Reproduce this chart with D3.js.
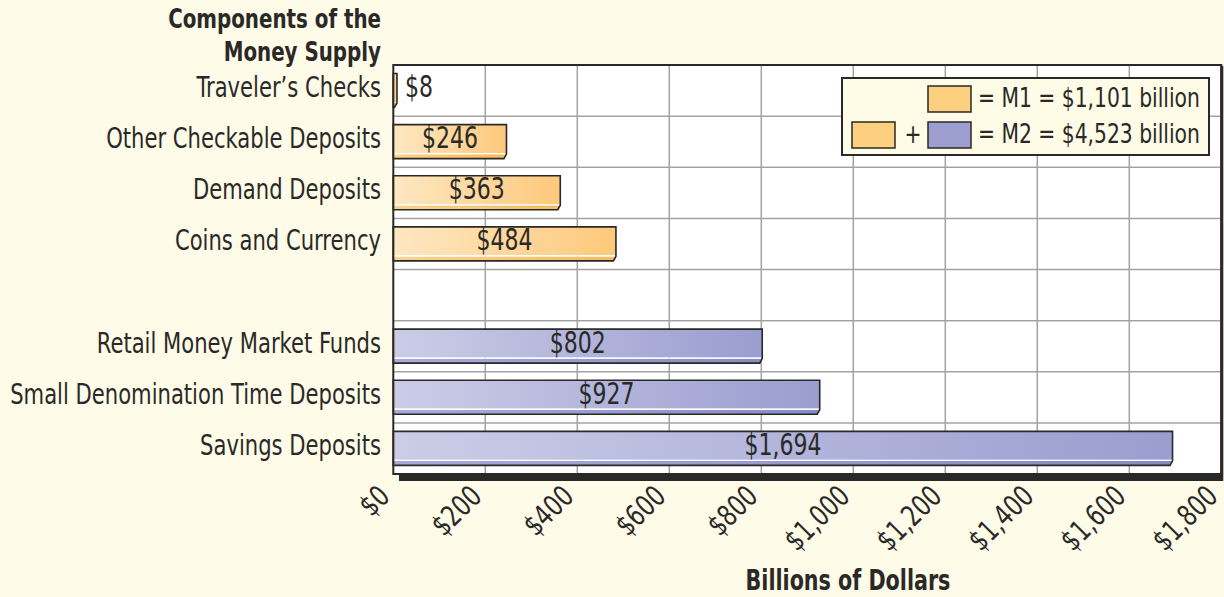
<!DOCTYPE html>
<html><head><meta charset="utf-8">
<script src="https://cdn.jsdelivr.net/npm/d3@7"></script>
<style>html,body{margin:0;padding:0;background:#fefbe8;} svg{display:block}</style>
</head><body><svg id="c" width="1224" height="597"></svg>
<script>
// ---- data ----
const m1Categories = ["Traveler’s Checks", "Other Checkable Deposits", "Demand Deposits", "Coins and Currency"];
const m1Values = [8, 246, 363, 484];
const m2Categories = ["Retail Money Market Funds", "Small Denomination Time Deposits", "Savings Deposits"];
const m2Values = [802, 927, 1694];
const xTickValues = [0, 200, 400, 600, 800, 1000, 1200, 1400, 1600, 1800];
const xTickLabels = ["$0", "$200", "$400", "$600", "$800", "$1,000", "$1,200", "$1,400", "$1,600", "$1,800"];
const titleLines = ["Components of the", "Money Supply"];
const axisTitle = "Billions of Dollars";
const legendM1 = "= M1 = $1,101 billion";
const legendM2 = "= M2 = $4,523 billion";

// ---- style ----
const FONT = '"DejaVu Sans Condensed", "Liberation Sans Narrow", "Open Sans", sans-serif';
const INK = "#2a2927";
const SY = 1.2; // vertical stretch to mimic the taller, narrow original typeface
const cv = document.createElement("canvas").getContext("2d");
function fit(text, weight, target) {
  cv.font = `${weight} 100px ${FONT}`;
  return 100 * target / cv.measureText(text).width;
}
const fsCat = fit("Small Denomination Time Deposits", "normal", 371);
const fsTitle = fit("Components of the", "bold", 213);
const fsVal = fit("$1,694", "normal", 77);
const fsLeg = fit(legendM1, "normal", 222);
const fsAxis = fit(axisTitle, "bold", 205);
const tr = (px, py) => `translate(${px},${py}) scale(1,${SY})`;

const rows = [];
m1Categories.forEach((c, i) => rows.push({name: c, value: m1Values[i], group: "m1"}));
rows.push({name: "", value: null, group: "gap"});
m2Categories.forEach((c, i) => rows.push({name: c, value: m2Values[i], group: "m2"}));

const svg = d3.select("#c");
const x = d3.scaleLinear().domain([0, 1800]).range([393.3, 1221.3]);
const y = d3.scaleBand().domain(d3.range(rows.length)).range([65, 474]).padding(0);

const defs = svg.append("defs");
function grad(id, c0, c1) {
  const g = defs.append("linearGradient").attr("id", id).attr("x1", 0).attr("x2", 1).attr("y1", 0).attr("y2", 0);
  g.append("stop").attr("offset", 0).attr("stop-color", c0);
  g.append("stop").attr("offset", 1).attr("stop-color", c1);
}
grad("gm1", "#fee7c2", "#fdc97b");
grad("gm1s", "#fcd28e", "#f7bb5a");
grad("gm2", "#cbcde7", "#9a9dcf");
grad("gm2s", "#a7aad9", "#878bc4");

// plot shadow + background
svg.append("rect").attr("x", 399).attr("y", 475).attr("width", 1222.5 - 399).attr("height", 6).attr("fill", INK);
svg.append("rect").attr("x", x(0)).attr("y", 65).attr("width", x(1800) - x(0)).attr("height", 409).attr("fill", "#ffffff");

// grid
const g = svg.append("g");
g.selectAll("line.v").data(xTickValues.slice(1, -1)).join("line")
  .attr("x1", d => x(d)).attr("x2", d => x(d)).attr("y1", 65).attr("y2", 474)
  .attr("stroke", "#a3a3a3").attr("stroke-width", 1.5);
g.selectAll("line.h").data(d3.range(1, rows.length)).join("line")
  .attr("x1", x(0)).attr("x2", x(1800)).attr("y1", d => y(d)).attr("y2", d => y(d))
  .attr("stroke", "#a3a3a3").attr("stroke-width", 1.5);

// bars
const barRows = rows.map((r, i) => ({...r, i})).filter(r => r.value !== null);
const bars = svg.append("g").selectAll("g").data(barRows).join("g");
const BT = 8.5, BH = 34, BL = 28.5;
bars.append("rect")
  .attr("x", x(0)).attr("y", d => y(d.i) + BT).attr("width", d => x(d.value) - x(0)).attr("height", BL)
  .attr("fill", d => d.group === "m1" ? "url(#gm1)" : "url(#gm2)");
bars.append("path")
  .attr("d", d => {
    const x0 = x(0), x1 = x(d.value), t = y(d.i) + BT + BL + 1, b = y(d.i) + BT + BH;
    return `M${x0},${t}H${x1}L${x1 - 2.5},${b}H${x0}Z`;
  })
  .attr("fill", d => d.group === "m1" ? "url(#gm1s)" : "url(#gm2s)");
bars.append("line")
  .attr("x1", x(0)).attr("x2", d => x(d.value) - 0.5)
  .attr("y1", d => y(d.i) + BT + BL + 0.5).attr("y2", d => y(d.i) + BT + BL + 0.5)
  .attr("stroke", "#ffffff").attr("stroke-width", 1.3);
bars.append("path")
  .attr("d", d => {
    const x0 = x(0), x1 = x(d.value), t = y(d.i) + BT, m = y(d.i) + BT + BL + 1, b = y(d.i) + BT + BH;
    return `M${x0},${t}H${x1}V${m}L${x1 - 2.5},${b}H${x0}Z`;
  })
  .attr("fill", "none").attr("stroke", INK).attr("stroke-width", 1.6).attr("stroke-linejoin", "miter");

// value labels
const fmt = v => "$" + d3.format(",")(v);
bars.append("text")
  .attr("transform", d => tr(d.value < 100 ? x(d.value) + 8 : (x(0) + x(d.value)) / 2, y(d.i) + BT + 23.5))
  .attr("text-anchor", d => d.value < 100 ? "start" : "middle")
  .attr("font-family", FONT).attr("font-size", fsVal).attr("fill", INK)
  .text(d => fmt(d.value));

// plot border
svg.append("rect").attr("x", x(0)).attr("y", 65).attr("width", x(1800) - x(0)).attr("height", 409)
  .attr("fill", "none").attr("stroke", INK).attr("stroke-width", 2);
svg.append("line").attr("x1", x(1800) + 0.5).attr("x2", x(1800) + 0.5).attr("y1", 66).attr("y2", 481)
  .attr("stroke", INK).attr("stroke-width", 3);

// category labels
svg.append("g").selectAll("text").data(rows.map((r, i) => ({...r, i})).filter(r => r.name)).join("text")
  .attr("transform", d => tr(381, y(d.i) + y.bandwidth() / 2 + 6.5))
  .attr("text-anchor", "end").attr("font-family", FONT).attr("font-size", fsCat).attr("fill", INK)
  .text(d => d.name);

// title
svg.append("g").selectAll("text").data(titleLines).join("text")
  .attr("transform", (d, i) => tr(381, 27.5 + i * 33.5))
  .attr("text-anchor", "end").attr("font-family", FONT).attr("font-weight", "bold").attr("font-size", fsTitle).attr("fill", INK)
  .text(d => d);

// x tick labels
svg.append("g").selectAll("text").data(xTickValues).join("text")
  .attr("transform", d => `translate(${x(d) - 2},498) rotate(-45) scale(1,${SY})`)
  .attr("text-anchor", "end").attr("font-family", FONT).attr("font-size", fsVal).attr("fill", INK)
  .text((d, i) => xTickLabels[i]);

// axis title
svg.append("text").attr("transform", tr(848, 590)).attr("text-anchor", "middle")
  .attr("font-family", FONT).attr("font-weight", "bold").attr("font-size", fsAxis).attr("fill", INK)
  .text(axisTitle);

// legend
const lg = svg.append("g");
lg.append("rect").attr("x", 842).attr("y", 78).attr("width", 367).attr("height", 77)
  .attr("fill", "#fefbe6").attr("stroke", INK).attr("stroke-width", 2);
const sw = [
  {x: 928, y: 86, c: "#fdd080"},
  {x: 852, y: 122, c: "#fdd080"},
  {x: 928, y: 122, c: "#9c9fcf"}
];
lg.selectAll("rect.sw").data(sw).join("rect").attr("class", "sw")
  .attr("x", d => d.x).attr("y", d => d.y).attr("width", 43).attr("height", 26)
  .attr("fill", d => d.c).attr("stroke", INK).attr("stroke-width", 1.5);
lg.append("text").attr("transform", tr(913, 143)).attr("text-anchor", "middle")
  .attr("font-family", FONT).attr("font-size", fsLeg).attr("fill", INK).text("+");
lg.selectAll("text.lt").data([legendM1, legendM2]).join("text").attr("class", "lt")
  .attr("transform", (d, i) => tr(978, 107 + i * 36))
  .attr("font-family", FONT).attr("font-size", fsLeg).attr("fill", INK).text(d => d);
</script></body></html>
